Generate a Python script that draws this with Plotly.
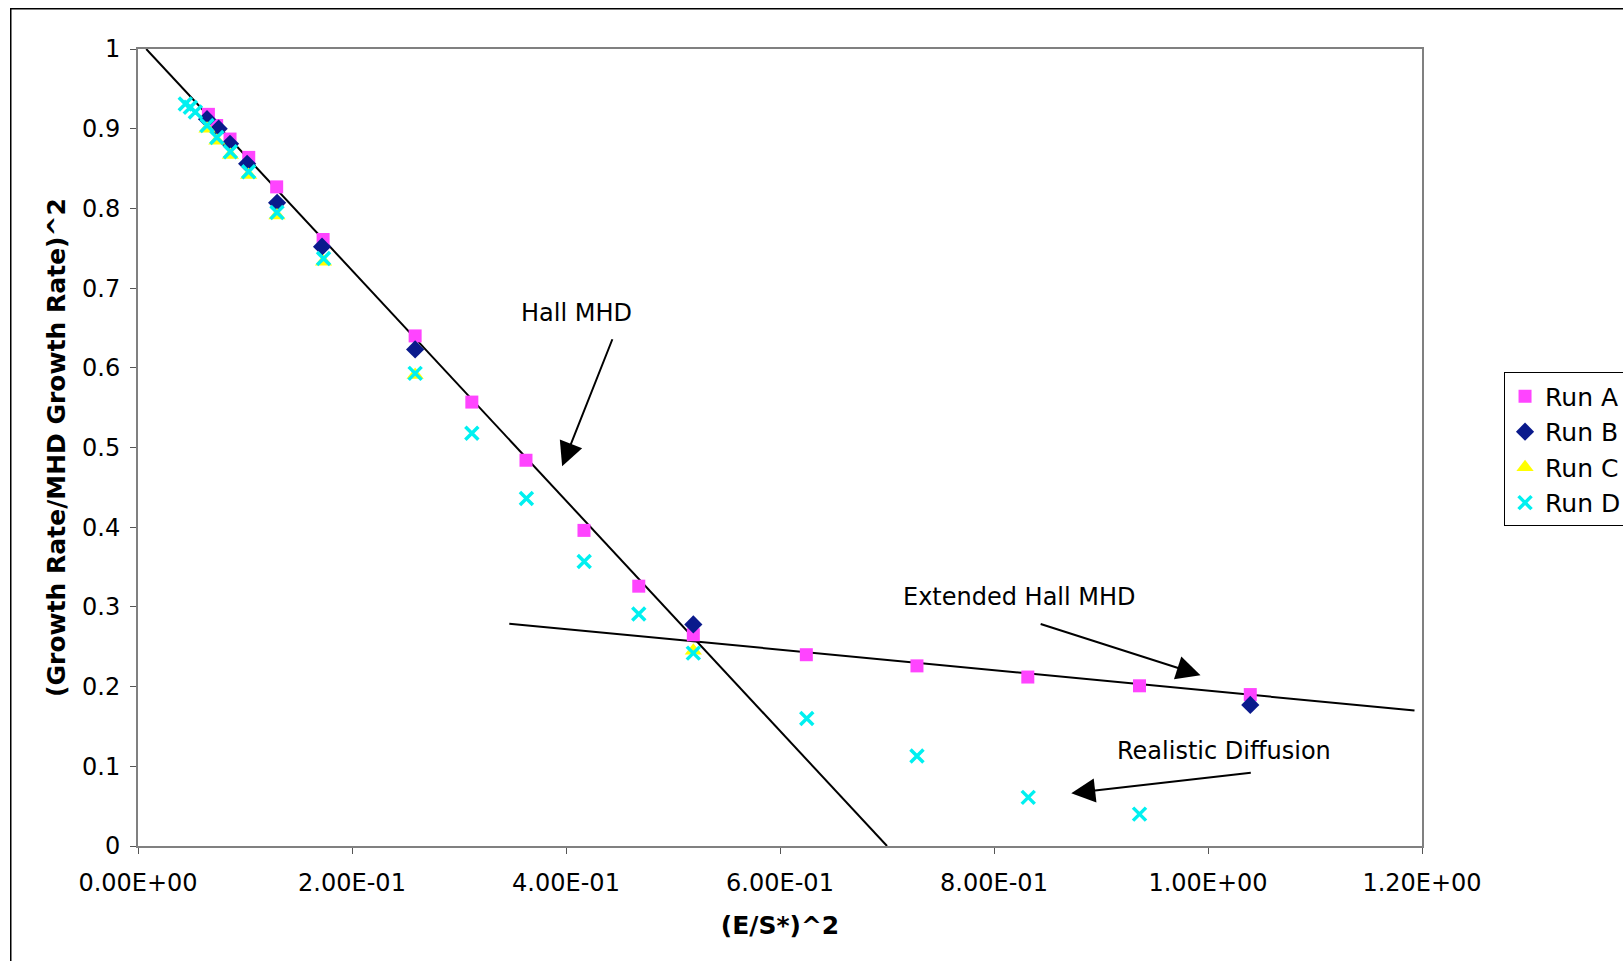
import plotly.graph_objects as go

# ---- data ----
run_a_x = [0.0658, 0.0735, 0.086, 0.1035, 0.1296, 0.173, 0.259, 0.312, 0.3626, 0.4168, 0.468, 0.519, 0.6246, 0.728, 0.8316, 0.936, 1.0395]
run_a_y = [0.918, 0.904, 0.887, 0.864, 0.827, 0.761, 0.640, 0.557, 0.484, 0.396, 0.326, 0.265, 0.240, 0.226, 0.212, 0.201, 0.190]

run_b_x = [0.0645, 0.0754, 0.086, 0.102, 0.130, 0.172, 0.259, 0.519, 1.0395]
run_b_y = [0.912, 0.900, 0.881, 0.856, 0.807, 0.752, 0.623, 0.278, 0.177]

run_c_x = [0.0645, 0.0737, 0.0863, 0.1034, 0.1299, 0.1734, 0.259, 0.519]
run_c_y = [0.900, 0.885, 0.867, 0.842, 0.791, 0.733, 0.591, 0.245]

run_d_x = [0.0442, 0.0489, 0.0536, 0.0645, 0.0737, 0.0863, 0.1034, 0.1299, 0.1734, 0.259, 0.312, 0.363, 0.417, 0.468, 0.519, 0.625, 0.728, 0.832, 0.936]
run_d_y = [0.931, 0.927, 0.921, 0.904, 0.889, 0.871, 0.846, 0.795, 0.737, 0.593, 0.518, 0.436, 0.357, 0.291, 0.242, 0.160, 0.113, 0.061, 0.040]

hall_x = [0.0077, 0.700]
hall_y = [1.0, 0.0]
ext_x = [0.347, 1.193]
ext_y = [0.279, 0.170]

x_tickvals = [0.0, 0.2, 0.4, 0.6, 0.8, 1.0, 1.2]
x_ticktext = ["0.00E+00", "2.00E-01", "4.00E-01", "6.00E-01", "8.00E-01", "1.00E+00", "1.20E+00"]
y_tickvals = [0.0, 0.1, 0.2, 0.3, 0.4, 0.5, 0.6, 0.7, 0.8, 0.9, 1.0]
y_ticktext = ["0", "0.1", "0.2", "0.3", "0.4", "0.5", "0.6", "0.7", "0.8", "0.9", "1"]

FONT = "DejaVu Sans, Verdana, sans-serif"

fig = go.Figure()
fig.add_trace(go.Scatter(x=hall_x, y=hall_y, mode="lines", line=dict(color="black", width=2), showlegend=False, hoverinfo="skip"))
fig.add_trace(go.Scatter(x=ext_x, y=ext_y, mode="lines", line=dict(color="black", width=2), showlegend=False, hoverinfo="skip"))

fig.add_trace(go.Scatter(x=run_a_x, y=run_a_y, mode="markers", name="Run A",
                         marker=dict(symbol="square", size=13, color="#FF44FF")))
fig.add_trace(go.Scatter(x=run_b_x, y=run_b_y, mode="markers", name="Run B",
                         marker=dict(symbol="diamond", size=14, color="#0A1A8C")))
fig.add_trace(go.Scatter(x=run_c_x, y=run_c_y, mode="markers", name="Run C",
                         marker=dict(symbol="triangle-up", size=15, color="#FFFF00")))
fig.add_trace(go.Scatter(x=run_d_x, y=run_d_y, mode="markers", name="Run D",
                         marker=dict(symbol="x-thin-open", size=13, color="#00F0F0",
                                     line=dict(color="#00F0F0", width=3.5))))

# arrows and labels
arrows = [
    dict(text="Hall MHD", tx=0.41, ty=0.669, ax=0.4439, ay=0.6377, hx=0.3964, hy=0.4766),
    dict(text="Extended Hall MHD", tx=0.8238, ty=0.313, ax=0.8422, ay=0.2792, hx=0.993, hy=0.2143),
    dict(text="Realistic Diffusion", tx=1.0153, ty=0.1195, ax=1.0414, ay=0.0922, hx=0.8722, hy=0.0662),
]
for a in arrows:
    fig.add_annotation(x=a["tx"], y=a["ty"], xref="x", yref="y", text=a["text"], showarrow=False,
                       font=dict(family=FONT, size=24, color="black"))
    fig.add_annotation(x=a["hx"], y=a["hy"], ax=a["ax"], ay=a["ay"], xref="x", yref="y",
                       axref="x", ayref="y", text="", showarrow=True, arrowhead=2,
                       arrowsize=2.4, arrowwidth=2, arrowcolor="black")

# outer chart border
fig.add_shape(type="rect", xref="paper", yref="paper", x0=-0.0991, y0=-0.2, x1=1.2, y1=1.0506,
              line=dict(color="black", width=1.5), fillcolor="rgba(0,0,0,0)", layer="below")

fig.update_layout(
    width=1623, height=961,
    margin=dict(l=138, r=201, t=49, b=115, autoexpand=False),
    paper_bgcolor="white", plot_bgcolor="white",
    font=dict(family=FONT, size=24, color="black"),
    legend=dict(xref="container", yref="container", x=0.9267, y=0.6125, xanchor="left", yanchor="top",
                bordercolor="black", borderwidth=1, bgcolor="white",
                font=dict(family=FONT, size=25), itemwidth=30, tracegroupgap=0),
    showlegend=True,
)
fig.update_xaxes(range=[0, 1.2], tickvals=x_tickvals, ticktext=x_ticktext, ticks="outside", ticklen=6,
                 tickcolor="#555555", showgrid=False, zeroline=False, showline=True, linecolor="#808080",
                 linewidth=2, mirror=True, tickfont=dict(family=FONT, size=24), ticklabelstandoff=8,
                 title=dict(text="<b>(E/S*)^2</b>", font=dict(family=FONT, size=25), standoff=21))
fig.update_yaxes(range=[0, 1], tickvals=y_tickvals, ticktext=y_ticktext, ticks="outside", ticklen=6,
                 tickcolor="#555555", showgrid=False, zeroline=False, showline=True, linecolor="#808080",
                 linewidth=2, mirror=True, tickfont=dict(family=FONT, size=24), ticklabelstandoff=5,
                 title=dict(text="<b>(Growth Rate/MHD Growth Rate)^2</b>", font=dict(family=FONT, size=25), standoff=9))

fig.write_html("out.html")
